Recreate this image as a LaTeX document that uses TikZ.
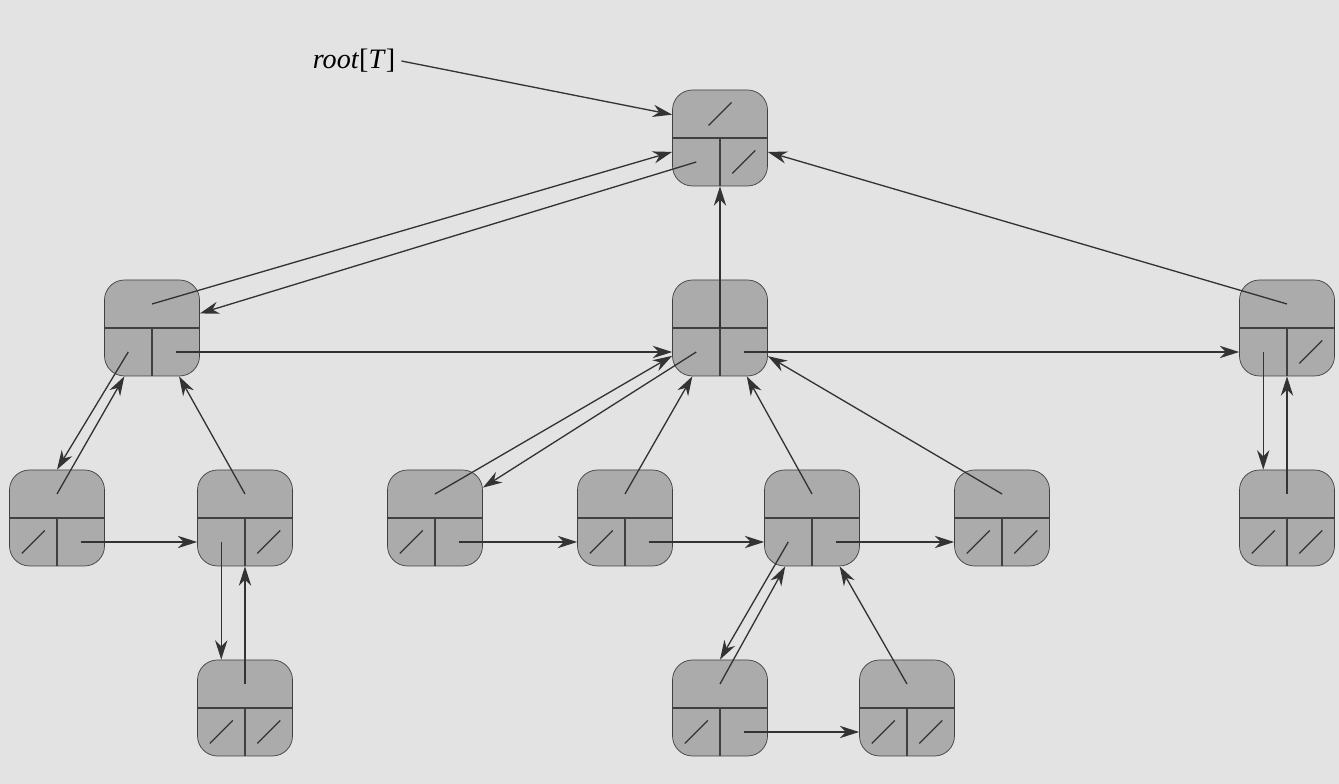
\documentclass[tikz,border=0pt]{standalone}
\usepackage{fontspec}
\setmainfont{Liberation Serif}
\usetikzlibrary{arrows.meta,calc}

\begin{document}
\begin{tikzpicture}[
  cell/.style={draw=black!75,fill=black!33,rounded corners=0.4cm,minimum width=1.9cm,minimum height=1.92cm,inner sep=0pt},
  ptr/.style={draw=black!80,line width=0.75pt,-{Stealth[length=11pt,width=7pt,inset=3.5pt]}},
  nil/.style={draw=black!80,line width=0.75pt}]
  % 背景
  \fill[black!11] (0,0) rectangle (26.78,15.68);
  \useasboundingbox (0,0) rectangle (26.78,15.68);
  % 節点(上:親，左下:左の子，右下:右の兄弟)
  \foreach \nm/\x/\y in {r/14.4/12.92, a/3.04/9.12, b/14.4/9.12, c/25.74/9.12,
      d/1.14/5.32, e/4.9/5.32, f/8.7/5.32, g/12.5/5.32, h/16.24/5.32, i/20.04/5.32, j/25.74/5.32,
      k/4.9/1.52, l/14.4/1.52, m/18.14/1.52}{
    \node[cell] (\nm) at (\x,\y) {};
    \draw[black!75,line width=0.75pt] (\nm.west) -- (\nm.east);
    \draw[black!75,line width=0.75pt] (\nm.center) -- (\nm.south);
    \coordinate (\nm-p) at ($(\nm.center)+(0,0.48)$);
    \coordinate (\nm-l) at ($(\nm.center)+(-0.475,-0.48)$);
    \coordinate (\nm-r) at ($(\nm.center)+(0.475,-0.48)$);
  }
  % NIL
  \foreach \cl in {r-p,r-r,c-r,d-l,e-r,f-l,g-l,i-l,i-r,j-l,j-r,k-l,k-r,l-l,m-l,m-r}
    \draw[nil] ($(\cl)+(-0.23,-0.23)$) -- ($(\cl)+(0.23,0.23)$);
  % 親へのポインタ
  \foreach \ch/\pa in {a/r, c/r, d/a, e/a, f/b, g/b, h/b, i/b, j/c, k/e, l/h, m/h}
    \draw[ptr] (\ch-p) -- (\pa);
  \draw[ptr] (b.center) -- (r);
  % 左の子へのポインタ
  \draw[ptr] (r-l) -- (a);
  \draw[ptr] (a-l) -- (d.north);
  \draw[ptr] (b-l) -- (f);
  \draw[ptr] (c-l) -- (c-l |- j.north);
  \draw[ptr] (e-l) -- (e-l |- k.north);
  \draw[ptr] (h-l) -- (l.north);
  % 右の兄弟へのポインタ
  \foreach \sa/\sb in {a/b, b/c, d/e, f/g, g/h, h/i, l/m}
    \draw[ptr] (\sa-r) -- (\sa-r -| \sb.west);
  % 根
  \node[font=\fontsize{16}{18}\selectfont] (rootlbl) at (7.08,14.46) {\textit{root}[\textit{T}]};
  \draw[ptr] (rootlbl.east) -- (r.154);
\end{tikzpicture}
\end{document}
